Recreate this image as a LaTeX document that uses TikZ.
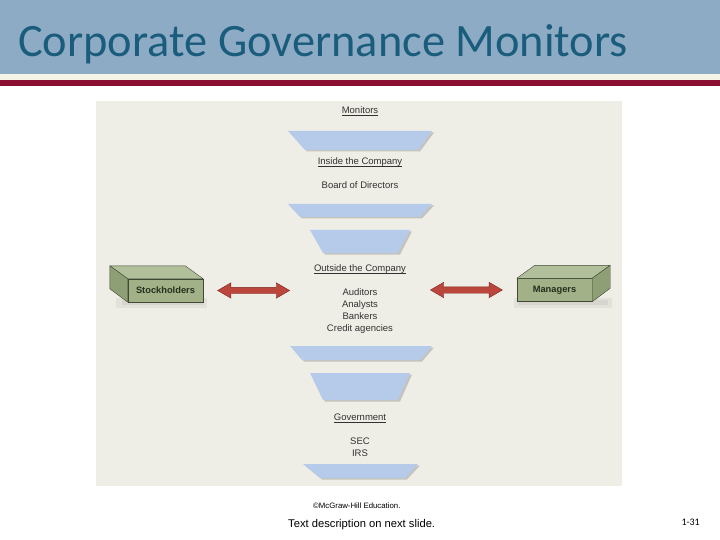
\documentclass[tikz,border=0pt]{standalone}
\usepackage{fontspec}
\setmainfont{Liberation Sans}
\newfontfamily\carlito{Carlito}
\usepackage{xcolor}
\usetikzlibrary{calc, positioning, shapes.arrows}

\definecolor{bandblue}{RGB}{142,171,197}
\definecolor{cream}{RGB}{246,244,230}
\definecolor{barred}{RGB}{138,14,50}
\definecolor{titleblue}{RGB}{26,92,124}
\definecolor{panel}{RGB}{239,238,230}
\definecolor{funnelblue}{RGB}{182,202,234}
\definecolor{shadowtan}{RGB}{196,196,188}
\definecolor{inkgray}{RGB}{50,50,50}
\definecolor{boxfront}{RGB}{162,177,136}
\definecolor{boxtop}{RGB}{178,191,155}
\definecolor{boxside}{RGB}{143,159,117}
\definecolor{boxedge}{RGB}{62,72,52}
\definecolor{boxtext}{RGB}{36,48,28}
\definecolor{arrowred}{RGB}{186,70,60}
\definecolor{arrowedge}{RGB}{128,38,32}

\newcommand{\ulabel}[1]{\underline{\smash{#1}}}

\begin{document}
\begin{tikzpicture}[x=1pt, y=-1pt,
    every node/.style={font=\fontsize{9.5}{11}\selectfont, text=inkgray, inner sep=0pt},
    lbl/.style={anchor=base},
    front/.style={draw=boxedge, fill=boxfront, minimum width=75pt, minimum height=23pt,
                  font=\fontsize{9.3}{11}\selectfont\bfseries, text=boxtext},
    face/.style={draw=boxedge, line join=round},
    dblarrow/.style={double arrow, draw=arrowedge, fill=arrowred, minimum height=72pt,
                     minimum width=15pt, double arrow head extend=4.5pt,
                     double arrow tip angle=60, inner xsep=0pt, inner ysep=3pt},
]
  \useasboundingbox (0,0) rectangle (720,540);

  % header
  \fill[bandblue] (0,0) rectangle (720,74);
  \fill[cream] (0,74) rectangle (720,80);
  \fill[barred] (0,80) rectangle (720,86);
  \node[anchor=base west, font=\carlito\fontsize{46.4}{52}\selectfont, text=titleblue]
    (title) at (18,57) {Corporate Governance Monitors};

  % figure panel
  \fill[panel] (96,101) rectangle (622,486);

  % funnel bands: top y / bottom y / top left / top right / bottom left / bottom right
  \foreach \yt/\yb/\tl/\tr/\bl/\br in {131/150/288/432/305/418, 204/217/288/432/300/420,
      230/253/310/410/323/398, 346/360/290/432/302/420, 373/400/310/410/323/398,
      464/478/303/418/320/405}{
    \fill[shadowtan] ({\tl+2},{\yt+1.5}) -- ({\tr+2},{\yt+1.5}) -- ({\br+2},{\yb+1.5})
      -- ({\bl+2},{\yb+1.5}) -- cycle;
    \fill[funnelblue] (\tl,\yt) -- (\tr,\yt) -- (\br,\yb) -- (\bl,\yb) -- cycle;
  }

  % monitor labels
  \node[lbl] (mon) at (360,113.5) {\ulabel{Monitors}};
  \node[lbl] (inside) at (360,164.5) {\ulabel{Inside the Company}};
  \node[lbl] (board) at (360,188.5) {Board of Directors};
  \node[lbl] (outside) at (360,271.5) {\ulabel{Outside the Company}};
  \foreach \t [count=\i] in {Auditors, Analysts, Bankers, Credit agencies}
    \node[lbl] (out\i) at (360,283.5+12*\i) {\t};
  \node[lbl] (gov) at (360,420.5) {\ulabel{Government}};
  \node[lbl] (sec) at (360,444.5) {SEC};
  \node[lbl] (irs) at (360,456.5) {IRS};

  % stockholders box
  \fill[black, opacity=0.05] (116,298) rectangle (207,308);
  \fill[black, opacity=0.05] (122,300) rectangle (204,305);
  \node[front] (stock) at (165.5,290.5) {Stockholders};
  \filldraw[face, fill=boxtop] (stock.north west) -- ++(-18,-13)
    -- ($(stock.north east)+(-18,-13)$) -- (stock.north east) -- cycle;
  \filldraw[face, fill=boxside] (stock.north west) -- ++(-18,-13) -- ++(0,23)
    -- (stock.south west) -- cycle;

  % managers box
  \fill[black, opacity=0.05] (514,298) rectangle (612,308);
  \fill[black, opacity=0.05] (518,300) rectangle (608,305);
  \node[front] (mgr) at (554.5,290) {Managers};
  \filldraw[face, fill=boxtop] (mgr.north west) -- ++(18,-13)
    -- ($(mgr.north east)+(18,-13)$) -- (mgr.north east) -- cycle;
  \filldraw[face, fill=boxside] (mgr.north east) -- ++(18,-13) -- ++(0,23)
    -- (mgr.south east) -- cycle;

  % two-way arrows
  \node[dblarrow, right=14pt of stock] (arrL) {};
  \node[dblarrow, left=14pt of mgr] (arrR) {};

  % footer
  \node[anchor=base west, font=\fontsize{7.8}{9}\selectfont, text=black]
    (copy) at (313,508) {\textcopyright McGraw-Hill Education.};
  \node[anchor=base west, font=\fontsize{11.2}{12}\selectfont, text=black]
    (desc) at (288,527) {Text description on next slide.};
  \node[anchor=base east, font=\carlito\fontsize{10}{12}\selectfont, text=black]
    (page) at (700,525) {1-31};
\end{tikzpicture}
\end{document}
